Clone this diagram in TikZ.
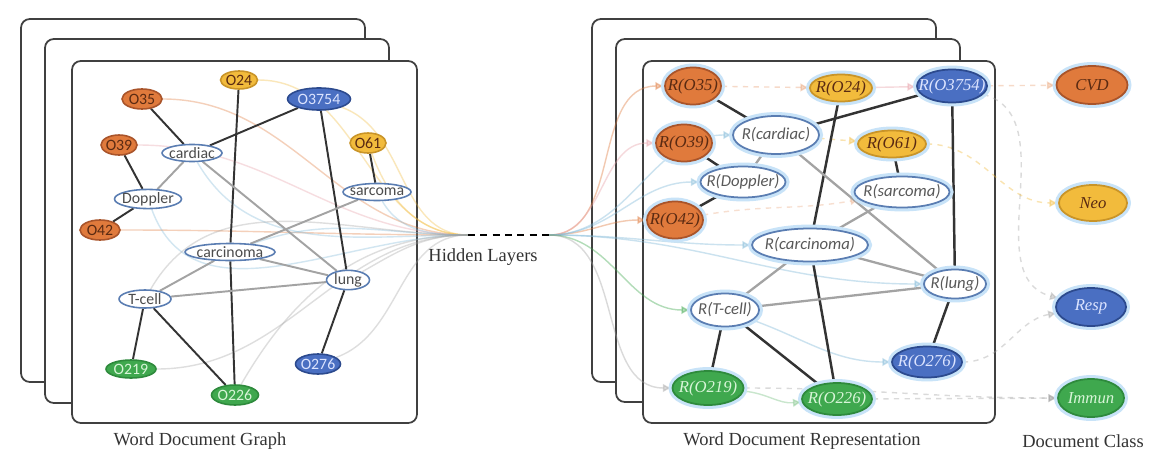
\documentclass[tikz,border=0pt]{standalone}
\usepackage{fontspec}
\setmainfont{Liberation Serif}
\newfontfamily\nodefont{Carlito}
\usetikzlibrary{shapes.geometric,arrows.meta,backgrounds}
\definecolor{cvdorange}{HTML}{E07A3C}
\definecolor{cvdedge}{HTML}{A9542A}
\definecolor{neoyellow}{HTML}{F2BB3C}
\definecolor{neoedge}{HTML}{C99428}
\definecolor{respblue}{HTML}{4A6FC2}
\definecolor{respedge}{HTML}{2C4A8E}
\definecolor{immungreen}{HTML}{3FA84E}
\definecolor{immunedge}{HTML}{2E8A3C}
\definecolor{wordedge}{HTML}{5A7DB2}
\definecolor{glowblue}{HTML}{C8E3F8}
\definecolor{linkgray}{HTML}{A3A3A3}
\definecolor{flowblue}{HTML}{7FB8D8}
\definecolor{flowpink}{HTML}{E8A0A8}
\definecolor{darktext}{HTML}{5A2A12}
\definecolor{lighttext}{HTML}{DCE4FF}
\definecolor{greentext}{HTML}{D8F5D8}
\begin{document}
\begin{tikzpicture}[x=0.02cm, y=-0.02cm,
  fixbox/.style={inner sep=0pt, execute at begin node={\hbox to 0pt\bgroup\hss}, execute at end node={\hss\egroup}},
  dims/.style 2 args={minimum width=#1*0.02cm, minimum height=#2*0.02cm},
  panel/.style={draw=black!75, fill=white, line width=1pt, rounded corners=5pt},
  lnode/.style={ellipse, fixbox, line width=0.9pt, font=\nodefont\fontsize{9}{11}\selectfont},
  lword/.style={lnode, draw=wordedge, fill=white, text=black!70},
  lorange/.style={lnode, draw=cvdedge, fill=cvdorange, text=darktext},
  lyellow/.style={lnode, draw=neoedge, fill=neoyellow, text=darktext},
  lblue/.style={lnode, draw=respedge, fill=respblue, text=lighttext},
  lgreen/.style={lnode, draw=immunedge, fill=immungreen, text=greentext},
  rnode/.style={ellipse, fixbox, line width=1pt, preaction={draw=glowblue, line width=4.5pt},
    font=\itshape\fontsize{9.5}{11}\selectfont},
  rword/.style={rnode, draw=wordedge, fill=white, text=black!65, font=\nodefont\itshape\fontsize{9.5}{11}\selectfont},
  rorange/.style={rnode, draw=cvdedge, fill=cvdorange, text=darktext},
  ryellow/.style={rnode, draw=neoedge, fill=neoyellow, text=darktext},
  rblue/.style={rnode, draw=respedge, fill=respblue, text=lighttext},
  rgreen/.style={rnode, draw=immunedge, fill=immungreen, text=greentext},
  strong/.style={draw=black!80, line width=1.1pt},
  weak/.style={draw=linkgray, line width=1.1pt},
  lflow/.style={line width=0.8pt, opacity=0.35},
  rflow/.style={line width=0.8pt, opacity=0.4, -{Latex[length=5pt,width=5pt]}},
  caption/.style={font=\fontsize{10.5}{13}\selectfont, text=black!80}]
\useasboundingbox (0,0) rectangle (1158,466);

% word document graph
\node [lyellow, dims={37}{18}] (O24) at (239,80) {O24};
\node [lorange, dims={40}{20}] (O35) at (142,99) {O35};
\node [lblue, dims={63}{22}] (O3754) at (319,99) {O3754};
\node [lorange, dims={36}{20}] (O39) at (119,145) {O39};
\node [lword, dims={60}{17}] (cardiac) at (192,153) {cardiac};
\node [lyellow, dims={36}{20}] (O61) at (368,143) {O61};
\node [lword, dims={68}{17}] (sarcoma) at (377,192) {sarcoma};
\node [lword, dims={67}{17}] (Doppler) at (148,199) {Doppler};
\node [lorange, dims={40}{20}] (O42) at (100,230) {O42};
\node [lword, dims={90}{17}] (carcinoma) at (230,252) {carcinoma};
\node [lword, dims={43}{17}] (lung) at (348,280) {lung};
\node [lword, dims={52}{18}] (Tcell) at (145,299) {T-cell};
\node [lgreen, dims={50}{18}] (O219) at (131,369) {O219};
\node [lgreen, dims={47}{20}] (O226) at (235,395) {O226};
\node [lblue, dims={45}{20}] (O276) at (318,364) {O276};

% hidden layers
\coordinate (hl) at (468,235);
\coordinate (hr) at (549,235);
\draw [dashed, line width=1pt, dash pattern=on 4pt off 3pt] (hl) -- (hr);
\node [caption] (hidden) at (483,257) {Hidden Layers};

% word document representation
\node [rorange, dims={56}{37}] (rO35) at (693,86) {R(O35)};
\node [ryellow, dims={62}{27}] (rO24) at (841,88) {R(O24)};
\node [rblue, dims={70}{33}] (rO3754) at (952,86) {R(O3754)};
\node [rword, dims={86}{38}] (rcardiac) at (776,135) {R(cardiac)};
\node [rorange, dims={56}{37}] (rO39) at (684,143) {R(O39)};
\node [ryellow, dims={68}{27}] (rO61) at (892,144) {R(O61)};
\node [rword, dims={85}{31}] (rDoppler) at (743,182) {R(Doppler)};
\node [rword, dims={95}{31}] (rsarcoma) at (902,192) {R(sarcoma)};
\node [rorange, dims={56}{37}] (rO42) at (675,220) {R(O42)};
\node [rword, dims={116}{33}] (rcarcinoma) at (810,245) {R(carcinoma)};
\node [rword, dims={62}{29}] (rlung) at (955,284) {R(lung)};
\node [rword, dims={68}{33}] (rTcell) at (725,310) {R(T-cell)};
\node [rblue, dims={70}{31}] (rO276) at (927,362) {R(O276)};
\node [rgreen, dims={71}{34}] (rO219) at (708,388) {R(O219)};
\node [rgreen, dims={70}{32}] (rO226) at (837,399) {R(O226)};

% document class
\node [rorange, dims={71}{38}] (CVD) at (1092,85) {CVD};
\node [ryellow, dims={68}{36}] (Neo) at (1093,203) {Neo};
\node [rblue, dims={70}{38}] (Resp) at (1091,307) {Resp};
\node [rgreen, dims={66}{38}] (Immun) at (1091,398) {Immun};

\node [caption] (graphlabel) at (200,441) {Word Document Graph};
\node [caption] (replabel) at (802,441) {Word Document Representation};
\node [caption] (classlabel) at (1083,441) {Document Class};

\begin{scope}[on background layer]
  \draw [panel] (21,19) rectangle (365,382);
  \draw [panel] (45,39) rectangle (389,403);
  \draw [panel] (72,61) rectangle (417,423);
  \draw [panel] (592,19) rectangle (936,382);
  \draw [panel] (616,39) rectangle (960,402);
  \draw [panel] (643,61) rectangle (995,423);

  % flows into the hidden layers
  \foreach \n/\c/\a in {O35/cvdorange/0, O39/flowpink/0, O42/cvdorange/0, O24/neoyellow/0,
      O3754/neoyellow/-20, O61/neoyellow/-70, cardiac/flowblue/-60, Doppler/flowblue/-70,
      sarcoma/flowblue/-60, carcinoma/flowblue/20, Tcell/linkgray/60, lung/linkgray/30,
      O219/linkgray/0, O226/linkgray/60, O276/linkgray/20}
    \draw [lflow, draw=\c] (\n) to[out=\a, in=180] (hl);
  \foreach \n/\c in {rO35/cvdorange, rO39/flowpink, rO42/cvdorange, rDoppler/flowblue,
      rcardiac/flowblue, rcarcinoma/flowblue, rlung/flowblue, rTcell/immungreen, rO219/linkgray}
    \draw [rflow, draw=\c] (hr) to[out=0, in=180] (\n);

  % representation links
  \draw [rflow, dashed, draw=cvdorange!70] (rO35) -- (rO24);
  \draw [rflow, draw=flowpink] (rO24) -- (rO3754);
  \draw [rflow, dashed, draw=neoyellow] (rcardiac) -- (rO61);
  \draw [rflow, dashed, draw=cvdorange!60] (rO42) to[out=10, in=190] (rsarcoma);
  \draw [rflow, draw=flowblue] (rTcell) to[out=-20, in=180] (rO276);
  \draw [rflow, draw=immungreen!70] (rO219) to[out=-5, in=185] (rO226);
  \draw [rflow, dashed, draw=linkgray] (rO219) to[out=0, in=180] (Immun);
  \draw [rflow, dashed, draw=linkgray] (rO226) -- (Immun);
  \draw [rflow, dashed, draw=linkgray] (rO276) to[out=0, in=190] (Resp);
  \draw [rflow, dashed, draw=cvdorange!70] (rO3754) -- (CVD);
  \draw [rflow, dashed, draw=linkgray] (rO3754) to[out=-15, in=165] (Resp);
  \draw [rflow, dashed, draw=neoyellow] (rO61) to[out=0, in=180] (Neo);

  % graph edges
  \draw [strong] (O35) -- (cardiac);
  \draw [strong] (O3754) -- (cardiac);
  \draw [strong] (O3754) -- (lung);
  \draw [strong] (O24) -- (carcinoma);
  \draw [strong] (carcinoma) -- (O226);
  \draw [strong] (O39) -- (Doppler);
  \draw [strong] (O42) -- (Doppler);
  \draw [strong] (O61) -- (sarcoma);
  \draw [strong] (Tcell) -- (O219);
  \draw [strong] (Tcell) -- (O226);
  \draw [strong] (lung) -- (O276);
  \draw [weak] (cardiac) -- (Doppler);
  \draw [weak] (cardiac) -- (lung);
  \draw [weak] (sarcoma) -- (carcinoma);
  \draw [weak] (carcinoma) -- (lung);
  \draw [weak] (carcinoma) -- (Tcell);
  \draw [weak] (Tcell) -- (lung);

  \draw [strong, line width=1.4pt] (rO35) -- (rcardiac);
  \draw [strong, line width=1.4pt] (rcardiac) -- (rO3754);
  \draw [strong, line width=1.4pt] (rO39) -- (rDoppler);
  \draw [strong, line width=1.4pt] (rO42) -- (rDoppler);
  \draw [strong, line width=1.4pt] (rO24) -- (rcarcinoma);
  \draw [strong, line width=1.4pt] (rO61) -- (rsarcoma);
  \draw [strong, line width=1.4pt] (rO3754) -- (rlung);
  \draw [strong, line width=1.4pt] (rlung) -- (rO276);
  \draw [strong, line width=1.4pt] (rcarcinoma) -- (rO226);
  \draw [strong, line width=1.4pt] (rTcell) -- (rO219);
  \draw [strong, line width=1.4pt] (rTcell) -- (rO226);
  \draw [weak, line width=1.3pt] (rcardiac) -- (rDoppler);
  \draw [weak, line width=1.3pt] (rcardiac) -- (rlung);
  \draw [weak, line width=1.3pt] (rsarcoma) -- (rcarcinoma);
  \draw [weak, line width=1.3pt] (rcarcinoma) -- (rlung);
  \draw [weak, line width=1.3pt] (rcarcinoma) -- (rTcell);
  \draw [weak, line width=1.3pt] (rTcell) -- (rlung);
\end{scope}
\end{tikzpicture}
\end{document}
